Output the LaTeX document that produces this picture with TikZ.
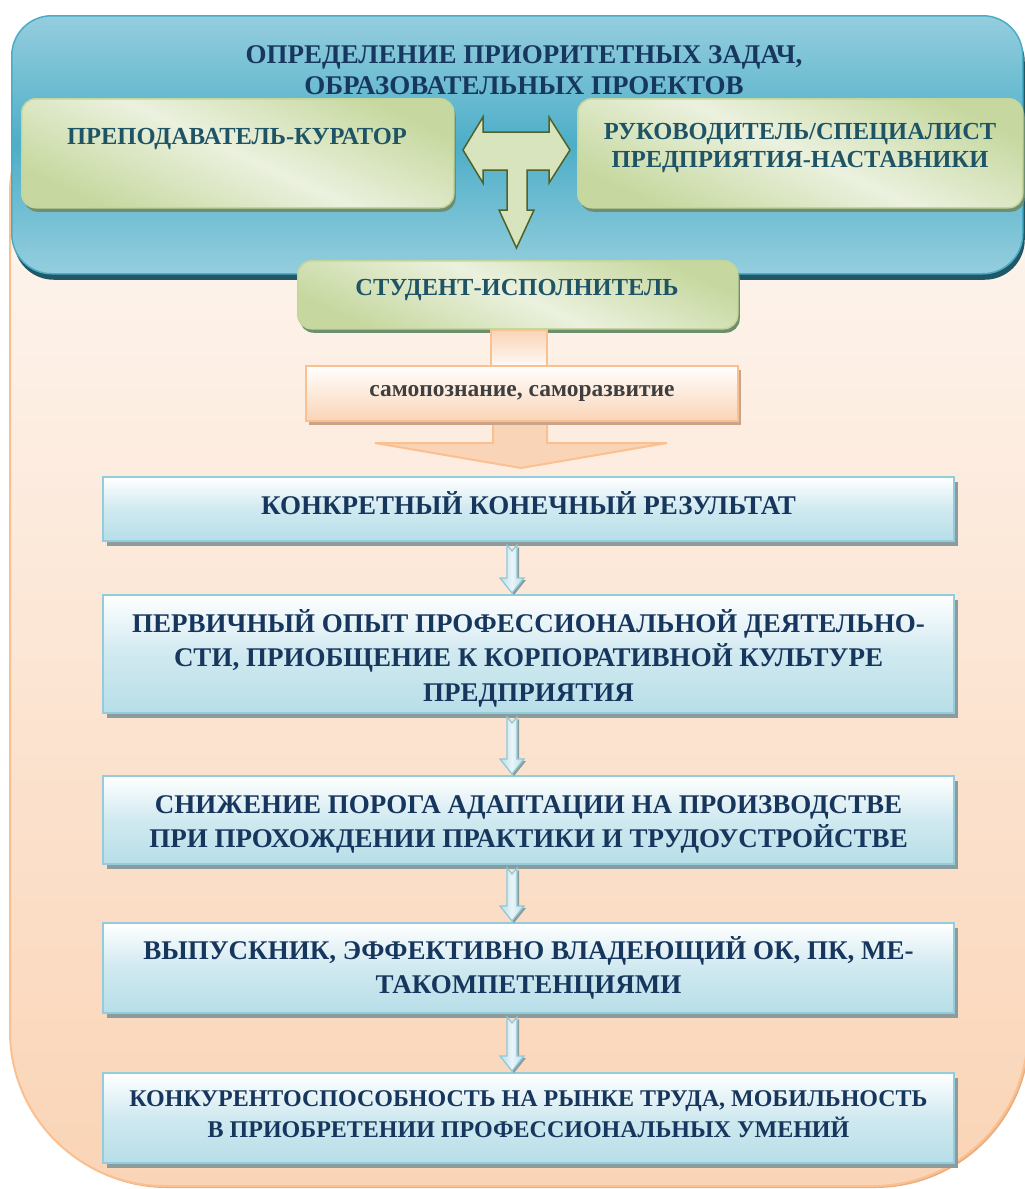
\documentclass[tikz,border=0pt]{standalone}
\usepackage{fontspec}
\setmainfont{Liberation Serif}
\usetikzlibrary{calc,shadows}
\definecolor{cNavy}{HTML}{17365D}
\definecolor{cTeal}{HTML}{1F5466}
\definecolor{cTitle}{HTML}{17375E}
\definecolor{cOrBorder}{HTML}{FAC090}
\definecolor{cOrTop}{HTML}{FEFAF7}
\definecolor{cOrBot}{HTML}{FAD4B6}
\definecolor{cOrShadow}{HTML}{E9AE80}
\definecolor{cBlueTop}{HTML}{95CEDE}
\definecolor{cBlueMid}{HTML}{4DAEC8}
\definecolor{cBlueBorder}{HTML}{4BACC6}
\definecolor{cBlueShadow}{HTML}{215868}
\definecolor{cGrTop}{HTML}{C6D89F}
\definecolor{cGrMid}{HTML}{EBF1DE}
\definecolor{cGrBot}{HTML}{C6D89F}
\definecolor{cGrBorder}{HTML}{C3D69B}
\definecolor{cGrShadow}{HTML}{6E8E70}
\definecolor{cResBot}{HTML}{B7DEE8}
\definecolor{cResMid}{HTML}{D0E9F0}
\definecolor{cResBorder}{HTML}{93CDDD}
\definecolor{cResShadow}{HTML}{8C9C9C}
\definecolor{cTFill}{HTML}{D7E4BD}
\definecolor{cTBorder}{HTML}{4F6228}
\definecolor{cSamoShadow}{HTML}{C9A38A}
\definecolor{cSamoText}{HTML}{3F3F3F}
\definecolor{cArrFill}{HTML}{B7DEE8}
\definecolor{cArrBorder}{HTML}{8CC9DA}
\definecolor{cArrShadow}{HTML}{8C9C9C}

\tikzset{
  bgshape/.style={draw=cOrBorder, line width=2pt, top color=cOrTop, bottom color=cOrBot},
  topbox/.style={draw=cBlueBorder, line width=1.5pt, rounded corners=40pt,
    top color=cBlueTop, bottom color=cBlueTop, middle color=cBlueMid,
    drop shadow={shadow xshift=2pt, shadow yshift=-6pt, fill=cBlueShadow, opacity=1},
    inner sep=0pt, anchor=north west},
  greenbox/.style={draw=cGrBorder, line width=1.5pt, rounded corners=14pt,
    top color=cGrTop, bottom color=cGrBot, middle color=cGrMid, shading angle=-25,
    drop shadow={shadow xshift=2pt, shadow yshift=-4pt, fill=cGrShadow, opacity=1},
    inner sep=0pt, anchor=north west},
  greentext/.style={font=\fontsize{24.5}{28}\selectfont\bfseries, text=cTeal, align=center, inner sep=0pt},
  titletext/.style={font=\fontsize{27}{31}\selectfont\bfseries, text=cTitle, align=center, inner sep=0pt},
  resbox/.style={draw=cResBorder, line width=2pt,
    top color=white, bottom color=cResBot, middle color=cResMid,
    drop shadow={shadow xshift=4pt, shadow yshift=-5pt, fill=cResShadow, opacity=1},
    inner sep=0pt, anchor=north west, minimum width=851pt,
    font=\fontsize{27}{34.5}\selectfont\bfseries, text=cNavy, align=center},
  samobox/.style={draw=cOrBorder, line width=2pt, top color=white, bottom color=cOrBot,
    drop shadow={shadow xshift=3pt, shadow yshift=-4pt, fill=cSamoShadow, opacity=1},
    inner sep=0pt, anchor=north west, minimum width=432pt, minimum height=55pt,
    font=\fontsize{23.5}{26}\selectfont\bfseries, text=cSamoText},
  orpart/.style={draw=cOrBorder, line width=2pt, top color=cOrBot, bottom color=cOrTop},
  orhead/.style={draw=cOrBorder, line width=2pt, fill=cOrBot},
  tarrow/.style={draw=cTBorder, line width=1.5pt, fill=cTFill, line join=miter},
  arrbody/.style={draw=cArrBorder, line width=1.2pt, left color=cArrFill, right color=cArrFill, middle color=white!70!cArrFill},
  arrshadow/.style={fill=cArrShadow},
}

% invisible struts to fine-tune the vertical position of text in boxes
\newcommand\uph[1]{\rule{0pt}{#1pt}}
\newcommand\dnd[1]{\rule[-#1pt]{0pt}{#1pt}}

\newcommand\flowarrow[2]{%
  \path[arrshadow] let \p1=(#1.south), \p2=(#2.north) in
    (509pt,\y1-5pt) -- (514pt,\y1-11pt) -- (519pt,\y1-5pt) -- (519pt,\y2+14pt)
    -- (526pt,\y2+14pt) -- (514pt,\y2-1pt) -- (502pt,\y2+14pt) -- (509pt,\y2+14pt) -- cycle;
  \path[arrbody] let \p1=(#1.south), \p2=(#2.north) in
    (507pt,\y1-3pt) -- (512pt,\y1-9pt) -- (517pt,\y1-3pt) -- (517pt,\y2+16pt)
    -- (524pt,\y2+16pt) -- (512pt,\y2+1pt) -- (500pt,\y2+16pt) -- (507pt,\y2+16pt) -- cycle;
}

\begin{document}
\begin{tikzpicture}[x=1pt,y=-1pt]
\useasboundingbox (0,0) rectangle (1025,1189);
\fill[white] (0,0) rectangle (1025,1189);

% orange background
\path[bgshape, rounded corners=155pt, drop shadow={shadow xshift=2pt, shadow yshift=-2pt, fill=cOrShadow, opacity=1}]
  (10,40) -- (10,1186) -- (1028,1186) -- (1028,40) -- cycle;

% top blue panel
\node[topbox, minimum width=1011pt, minimum height=258pt] (panel) at (11,15) {};
\node[titletext] (title) at (524,70.5) {ОПРЕДЕЛЕНИЕ ПРИОРИТЕТНЫХ ЗАДАЧ,\\ОБРАЗОВАТЕЛЬНЫХ ПРОЕКТОВ};

% green boxes
\node[greenbox, minimum width=432pt, minimum height=109pt] (curator) at (21,98) {};
\node[greentext, anchor=base] (curatorT) at (237,144) {ПРЕПОДАВАТЕЛЬ-КУРАТОР};
\node[greenbox, minimum width=445pt, minimum height=109pt] (mentor) at (577,98) {};
\node[greentext] (mentorT) at (800,147.5) {РУКОВОДИТЕЛЬ/СПЕЦИАЛИСТ\\ПРЕДПРИЯТИЯ-НАСТАВНИКИ};

% T arrow
\draw[tarrow] (463,150) -- (483,117) -- (483,132) -- (549,132) -- (549,117) -- (570,150)
  -- (549,183) -- (549,170) -- (527,170) -- (527,210) -- (534,210) -- (516.5,248)
  -- (499,210) -- (507,210) -- (507,170) -- (483,170) -- (483,183) -- cycle;

% student box
\node[greenbox, minimum width=440pt, minimum height=68pt] (student) at (297,260) {};
\node[greentext, anchor=base] (studentT) at (517,295) {СТУДЕНТ-ИСПОЛНИТЕЛЬ};

% orange arrow with self-development box
\draw[orpart] (491,330) rectangle (547,367);
\draw[orhead] (493,418) -- (493,443) -- (375,443) -- (521,468) -- (667,443) -- (547,443) -- (547,418) -- cycle;
\node[samobox] (samo) at (305,365) {самопознание, саморазвитие\dnd{3}};

% result boxes
\node[resbox, minimum height=64pt] (r1) at (102,476) {КОНКРЕТНЫЙ КОНЕЧНЫЙ РЕЗУЛЬТАТ\dnd{13}};
\node[resbox, minimum height=118pt] (r2) at (102,594) {\uph{31}ПЕРВИЧНЫЙ ОПЫТ ПРОФЕССИОНАЛЬНОЙ ДЕЯТЕЛЬНО-\\СТИ, ПРИОБЩЕНИЕ К КОРПОРАТИВНОЙ КУЛЬТУРЕ\\ПРЕДПРИЯТИЯ};
\node[resbox, minimum height=88pt] (r3) at (102,775) {\uph{26.5}СНИЖЕНИЕ ПОРОГА АДАПТАЦИИ НА ПРОИЗВОДСТВЕ\\ПРИ ПРОХОЖДЕНИИ ПРАКТИКИ И ТРУДОУСТРОЙСТВЕ};
\node[resbox, minimum height=90pt] (r4) at (102,922) {ВЫПУСКНИК, ЭФФЕКТИВНО ВЛАДЕЮЩИЙ ОК, ПК, МЕ-\\ТАКОМПЕТЕНЦИЯМИ};
\node[resbox, minimum height=90pt, font=\fontsize{24}{31}\selectfont\bfseries] (r5) at (102,1072) {КОНКУРЕНТОСПОСОБНОСТЬ НА РЫНКЕ ТРУДА, МОБИЛЬНОСТЬ\\В ПРИОБРЕТЕНИИ ПРОФЕССИОНАЛЬНЫХ УМЕНИЙ\dnd{8}};

\flowarrow{r1}{r2}
\flowarrow{r2}{r3}
\flowarrow{r3}{r4}
\flowarrow{r4}{r5}
\end{tikzpicture}
\end{document}
